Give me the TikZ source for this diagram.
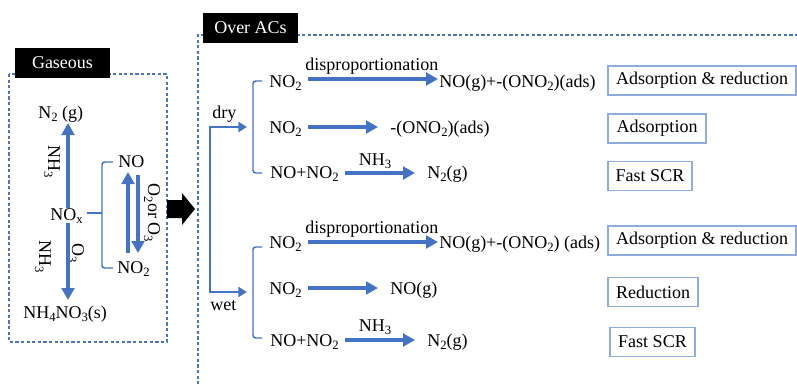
\documentclass[tikz,border=0pt]{standalone}
\usepackage{fontspec}
\setmainfont{Liberation Serif}
\usetikzlibrary{arrows.meta}
\definecolor{myblue}{HTML}{4472C4}
\definecolor{boxblue}{HTML}{8FAADC}
\definecolor{dashblue}{HTML}{4F74B8}
\newcommand{\sbs}[1]{\raisebox{-0.22em}{\fontsize{9.5}{10}\selectfont #1}}
\begin{document}
\begin{tikzpicture}[x=0.75pt,y=-0.75pt,
  txt/.style={inner sep=0pt, font=\fontsize{13.5}{16}\selectfont},
  arr/.style={draw=myblue, line width=2.4pt, -{Triangle[length=9pt,width=9.5pt]}},
  tarr/.style={draw=myblue, line width=1.7pt, -{Triangle[length=6.5pt,width=7.5pt]}},
  brk/.style={draw=myblue, line width=1.1pt, rounded corners=2pt},
  dsh/.style={draw=dashblue, line width=0.8pt, dash pattern=on 2.4pt off 1.8pt},
  hdr/.style={fill=black, text=white, inner sep=0pt, minimum width=71.25pt, minimum height=22.5pt, font=\fontsize{13.5}{16}\selectfont},
  tagbox/.style={draw=boxblue, line width=1.1pt, inner sep=0pt, minimum height=21.75pt, font=\fontsize{13.5}{16}\selectfont}
]
\useasboundingbox (0,0) rectangle (797,383);
\fill[white] (0,0) rectangle (797,383);

% ---------- left panel ----------
\draw[dsh] (9,74) rectangle (167,342);
\node[hdr] (gas) at (62.5,63) {Gaseous};

\node[txt, anchor=base west] (n2g) at (38,118) {N\sbs{2} (g)};
\node[txt, anchor=base west] (nox) at (50,220) {NO\sbs{x}};
\node[txt, anchor=base west] (nh4) at (23,318) {NH\sbs{4}NO\sbs{3}(s)};
\node[txt, rotate=-90] (nh3a) at (52,162) {NH\sbs{3}};
\node[txt, rotate=-90] (nh3b) at (43,257) {NH\sbs{3}};
\node[txt, rotate=-90] (o3l) at (76,253) {O\sbs{3}};
\node[txt, anchor=base west] (lno) at (118,167) {NO};
\node[txt, anchor=base west] (lno2) at (117,273) {NO\sbs{2}};
\node[txt, rotate=-90] (o2o3) at (152,213) {O\sbs{2}or O\sbs{3}};

\coordinate (ua0) at (68,208); \coordinate (ua1) at (68,123);
\coordinate (da0) at (68,223); \coordinate (da1) at (68,300);
\draw[arr] (ua0) -- (ua1);
\draw[arr] (da0) -- (da1);

\coordinate (bl0) at (87,213); \coordinate (bl1) at (102,213);
\draw[brk] (bl0) -- (bl1);
\coordinate (blt) at (113,162); \coordinate (blb) at (113,268);
\draw[brk] (blt) -- (102,162) -- (102,268) -- (blb);

\coordinate (lu0) at (128,253); \coordinate (lu1) at (128,172);
\coordinate (ld0) at (138,175); \coordinate (ld1) at (138,253);
\draw[arr] (lu0) -- (lu1);
\draw[arr] (ld0) -- (ld1);

% big black arrow
\fill[black] (167,200) -- (182,200) -- (182,193) -- (195,209) -- (182,225) -- (182,218) -- (167,218) -- cycle;

% ---------- right panel ----------
\draw[dsh] (198,390) -- (198,35) -- (800,35);
\node[hdr] (acs) at (250.5,28) {Over ACs};

% dry / wet trunk
\coordinate (tk0) at (210,127); \coordinate (tk1) at (210,292);
\coordinate (dryE) at (247,127); \coordinate (wetE) at (247,292);
\draw[tarr] (tk1) -- (tk0) -- (dryE);
\draw[tarr] (tk0) -- (tk1) -- (wetE);
\node[txt, anchor=base west] (dry) at (212,118) {dry};
\node[txt, anchor=base west] (wet) at (210,310) {wet};

% brackets
\draw[brk] (262,81) -- (253,81) -- (253,173) -- (262,173);
\draw[brk] (262,247) -- (253,247) -- (253,338) -- (262,338);

% dry rows
\node[txt, anchor=base west] (d1r) at (269,87) {NO\sbs{2}};
\node[txt, anchor=base west] (d1l) at (305,70) {disproportionation};
\node[txt, anchor=base west] (d1p) at (439,87) {NO(g)+-(ONO\sbs{2})(ads)};
\coordinate (d1a) at (308,79); \coordinate (d1b) at (438,79);
\draw[arr] (d1a) -- (d1b);

\node[txt, anchor=base west] (d2r) at (269,133) {NO\sbs{2}};
\node[txt, anchor=base west] (d2p) at (390,133) {-(ONO\sbs{2})(ads)};
\coordinate (d2a) at (308,127); \coordinate (d2b) at (378,127);
\draw[arr] (d2a) -- (d2b);

\node[txt, anchor=base west] (d3r) at (270,178) {NO+NO\sbs{2}};
\node[txt, anchor=base] (d3l) at (375,165) {NH\sbs{3}};
\node[txt, anchor=base west] (d3p) at (427,178) {N\sbs{2}(g)};
\coordinate (d3a) at (345,173); \coordinate (d3b) at (415,173);
\draw[arr] (d3a) -- (d3b);

% wet rows
\node[txt, anchor=base west] (w1r) at (269,248) {NO\sbs{2}};
\node[txt, anchor=base west] (w1l) at (305,233) {disproportionation};
\node[txt, anchor=base west] (w1p) at (439,248) {NO(g)+-(ONO\sbs{2}) (ads)};
\coordinate (w1a) at (308,242); \coordinate (w1b) at (438,242);
\draw[arr] (w1a) -- (w1b);

\node[txt, anchor=base west] (w2r) at (269,294) {NO\sbs{2}};
\node[txt, anchor=base west] (w2p) at (390,294) {NO(g)};
\coordinate (w2a) at (308,288); \coordinate (w2b) at (378,288);
\draw[arr] (w2a) -- (w2b);

\node[txt, anchor=base west] (w3r) at (270,346) {NO+NO\sbs{2}};
\node[txt, anchor=base] (w3l) at (375,331) {NH\sbs{3}};
\node[txt, anchor=base west] (w3p) at (427,346) {N\sbs{2}(g)};
\coordinate (w3a) at (345,340); \coordinate (w3b) at (415,340);
\draw[arr] (w3a) -- (w3b);

% tag boxes
\node[tagbox, minimum width=141pt] (t1) at (702,80.5) {Adsorption \& reduction};
\node[tagbox, minimum width=73.5pt] (t2) at (657,128.5) {Adsorption};
\node[tagbox, minimum width=63pt] (t3) at (650,176) {Fast SCR};
\node[tagbox, minimum width=141pt] (t4) at (702,240.5) {Adsorption \& reduction};
\node[tagbox, minimum width=67.5pt] (t5) at (653,292) {Reduction};
\node[tagbox, minimum width=63.75pt] (t6) at (652.5,342) {Fast SCR};
\end{tikzpicture}
\end{document}
